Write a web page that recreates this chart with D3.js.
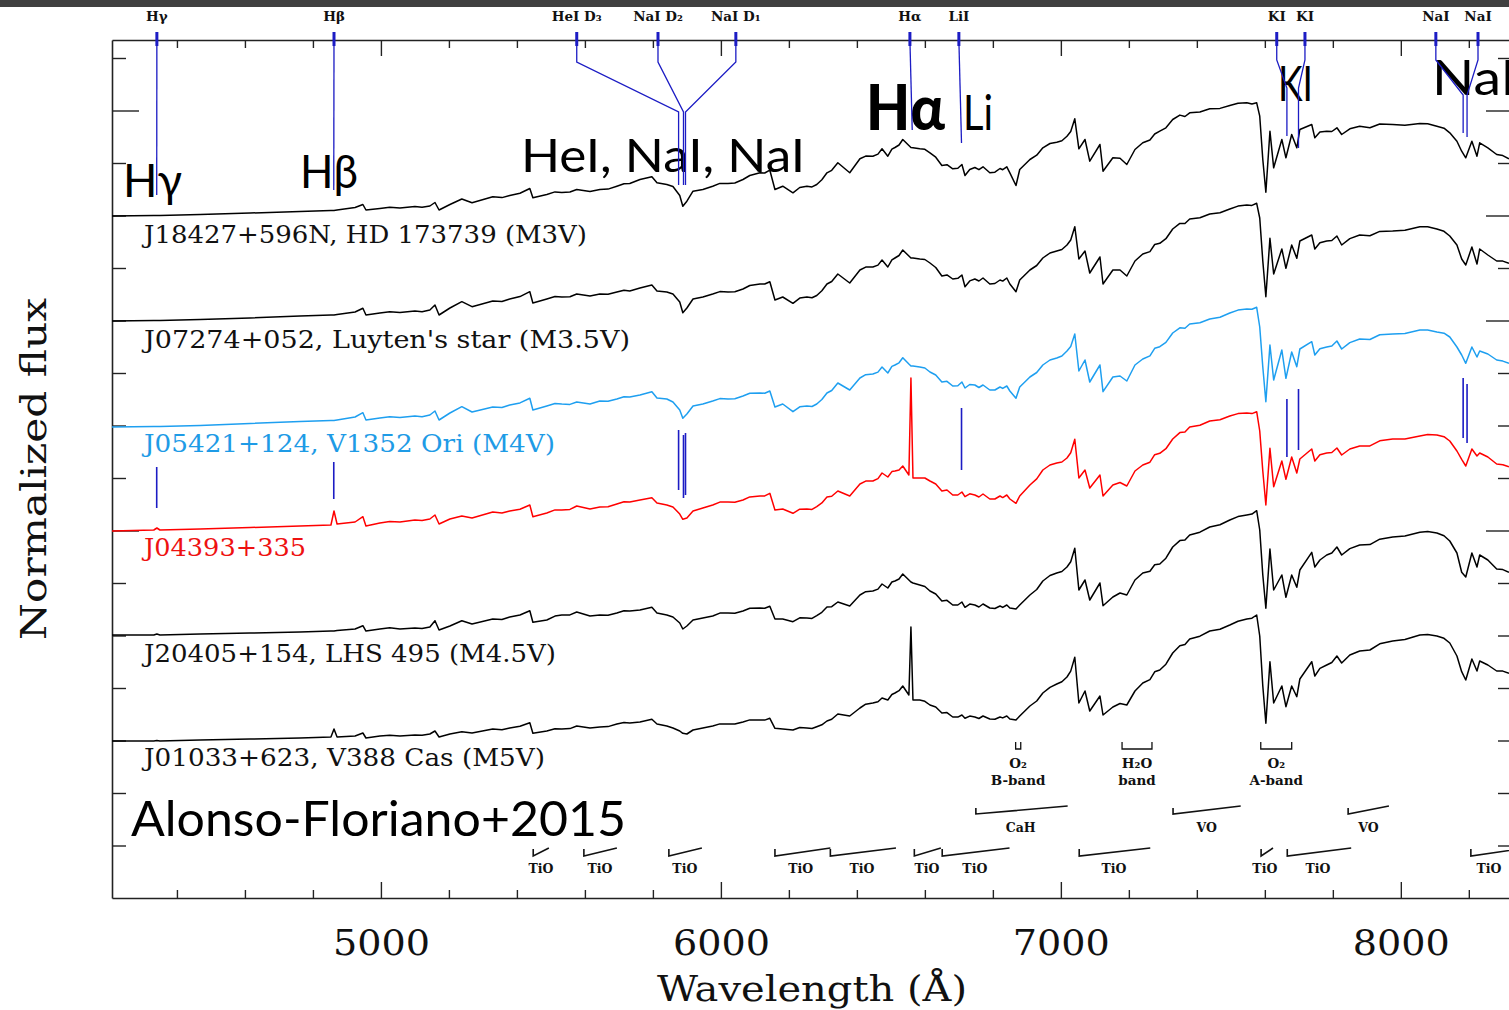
<!DOCTYPE html>
<html><head><meta charset="utf-8">
<script src="https://cdn.jsdelivr.net/npm/d3@7"></script>
<style>body{margin:0;background:#fff}svg{display:block}</style>
</head><body>
<svg id="c" width="1509" height="1010"></svg>
<script>
// ---------- DATA ----------
// coarse sampling of the spectra (Angstrom)
const wavelength = [4209,4332,4341,4350,4468,4615,4762,4853,4862,4871,
4924,4947,4956,4997,5056,5100,5144,5159,5171,5203,
5238,5268,5329,5379,5438,5447,5488,5532,5576,5615,
5644,5694,5732,5762,5797,5812,5841,5859,5879,5888,
5900,5918,5947,5976,6021,6065,6115,6144,6159,6182,
6212,6253,6282,6312,6344,6379,6409,6447,6474,6491,
6512,6535,6553,6559,6565,6585,6615,6650,6682,6709,
6718,6747,6771,6791,6821,6841,6850,6868,6879,6909,
6947,6988,7018,7041,7053,7071,7085,7115,7124,7153,
7194,7218,7241,7291,7329,7379,7438,7497,7547,7576,
7585,7594,7603,7615,7626,7650,7662,7679,7694,7703,
7738,7747,7782,7812,7826,7879,7976,8056,8106,8144,
8165,8179,8191,8209,8224,8232,8256,8282,8318];
// extra samples that carry the small-scale wiggles
const wavelengthFine = [5026,5121,5356,5409,5512,5556,5668,5715,5997,6041,6085,6129,6232,6268,6297,6326,
6426,6462,6503,6524,6600,6632,6665,6697,6732,6759,6806,6829,6929,6968,7003,7029,7174,7262,7276,
7309,7350,7365,7409,7468,7521,7562,7762,7797,7850,7909,7938,8012,8079,8127,8300];

const fluxJ18427 = [0.500,0.505,0.505,0.505,0.515,0.530,0.545,0.555,0.555,0.560,
0.585,0.615,0.560,0.575,0.580,0.595,0.600,0.635,0.560,0.615,
0.670,0.632,0.692,0.705,0.775,0.682,0.715,0.735,0.765,0.745,
0.765,0.798,0.825,0.865,0.892,0.832,0.815,0.795,0.705,0.598,
0.648,0.748,0.765,0.798,0.825,0.865,0.932,0.958,0.765,0.798,
0.732,0.798,0.815,0.932,1.032,0.932,1.072,1.098,1.172,1.098,
1.185,1.265,1.205,1.185,1.182,1.172,1.132,1.005,0.972,1.015,
0.905,0.985,0.992,0.932,0.975,0.992,0.932,0.805,0.965,1.065,
1.182,1.238,1.298,1.472,1.172,1.265,1.048,1.215,0.948,1.082,
1.015,1.165,1.232,1.348,1.465,1.532,1.572,1.605,1.632,1.632,
1.498,1.065,0.738,1.348,0.982,1.265,1.082,1.315,1.182,1.365,
1.415,1.282,1.348,1.382,1.315,1.398,1.415,1.425,1.398,1.332,
1.248,1.148,1.082,1.248,1.098,1.232,1.182,1.115,1.072];
const fluxJ18427Fine = [0.587,0.587,0.684,0.728,0.741,0.740,0.769,0.823,0.826,0.830,0.905,0.930,0.785,0.791,0.863,0.957,
1.099,1.119,1.168,1.210,1.167,1.088,1.013,0.978,0.965,0.963,0.938,0.963,1.108,1.225,1.253,1.345,1.078,1.260,1.320,
1.382,1.509,1.495,1.540,1.576,1.627,1.620,1.340,1.345,1.372,1.383,1.420,1.407,1.422,1.378,1.104];

const fluxJ07274 = [0.500,0.505,0.505,0.505,0.515,0.530,0.550,0.560,0.560,0.565,
0.590,0.627,0.560,0.580,0.585,0.600,0.610,0.660,0.560,0.630,
0.693,0.643,0.700,0.720,0.793,0.680,0.720,0.740,0.770,0.750,
0.770,0.790,0.800,0.830,0.860,0.800,0.790,0.770,0.690,0.583,
0.630,0.720,0.740,0.770,0.790,0.820,0.870,0.893,0.710,0.740,
0.677,0.740,0.755,0.870,0.970,0.880,1.010,1.040,1.110,1.040,
1.130,1.210,1.150,1.130,1.130,1.120,1.080,0.950,0.920,0.960,
0.843,0.920,0.930,0.870,0.910,0.930,0.870,0.793,0.910,1.010,
1.130,1.200,1.260,1.443,1.120,1.200,0.980,1.140,0.870,1.010,
0.950,1.100,1.170,1.277,1.420,1.520,1.570,1.620,1.660,1.677,
1.530,1.100,0.743,1.327,0.970,1.220,1.027,1.260,1.127,1.300,
1.360,1.220,1.300,1.350,1.260,1.360,1.400,1.443,1.420,1.350,
1.260,1.120,1.060,1.240,1.070,1.220,1.160,1.100,1.077];
const fluxJ07274Fine = [0.593,0.593,0.695,0.744,0.745,0.742,0.768,0.807,0.794,0.792,0.855,0.870,0.729,0.732,0.803,0.895,
1.039,1.059,1.111,1.155,1.115,1.035,0.961,0.927,0.901,0.900,0.875,0.899,1.055,1.180,1.215,1.310,1.010,1.194,1.265,
1.323,1.476,1.475,1.533,1.583,1.649,1.656,1.283,1.305,1.324,1.352,1.396,1.407,1.442,1.397,1.099];

const fluxJ05421 = [0.500,0.505,0.505,0.505,0.515,0.535,0.555,0.565,0.565,0.570,
0.600,0.643,0.570,0.590,0.595,0.610,0.620,0.660,0.570,0.640,
0.703,0.650,0.700,0.720,0.787,0.670,0.710,0.730,0.750,0.730,
0.760,0.780,0.800,0.820,0.853,0.790,0.780,0.750,0.670,0.587,
0.630,0.710,0.730,0.760,0.780,0.810,0.840,0.860,0.700,0.730,
0.653,0.710,0.730,0.840,0.940,0.870,0.990,1.030,1.100,1.040,
1.120,1.193,1.130,1.110,1.110,1.100,1.050,0.950,0.910,0.950,
0.890,0.920,0.920,0.870,0.900,0.910,0.860,0.787,0.900,1.000,
1.120,1.190,1.260,1.430,1.060,1.170,0.950,1.120,0.853,1.000,
0.960,1.120,1.180,1.303,1.440,1.530,1.580,1.640,1.680,1.697,
1.500,1.100,0.753,1.320,0.970,1.270,0.987,1.250,1.103,1.280,
1.353,1.220,1.300,1.360,1.280,1.380,1.430,1.470,1.450,1.400,
1.300,1.220,1.137,1.300,1.200,1.260,1.230,1.170,1.137];
const fluxJ05421Fine = [0.602,0.603,0.695,0.741,0.735,0.726,0.757,0.803,0.784,0.782,0.837,0.838,0.702,0.705,0.775,0.865,
1.023,1.049,1.106,1.142,1.090,1.020,0.957,0.913,0.925,0.895,0.870,0.886,1.045,1.170,1.210,1.305,1.010,1.211,1.287,
1.346,1.492,1.488,1.543,1.598,1.669,1.677,1.283,1.310,1.344,1.375,1.422,1.436,1.471,1.438,1.159];

const fluxJ04393 = [0.500,0.510,0.530,0.510,0.520,0.535,0.550,0.560,0.700,0.570,
0.590,0.643,0.550,0.580,0.590,0.610,0.620,0.660,0.570,0.620,
0.650,0.630,0.690,0.700,0.760,0.643,0.680,0.710,0.750,0.720,
0.740,0.770,0.790,0.810,0.833,0.780,0.760,0.740,0.670,0.617,
0.630,0.700,0.730,0.760,0.790,0.810,0.850,0.877,0.710,0.720,
0.677,0.720,0.743,0.840,0.900,0.850,0.970,1.000,1.080,1.040,
1.100,1.150,1.060,2.030,1.030,1.030,1.000,0.900,0.860,0.890,
0.843,0.860,0.870,0.820,0.850,0.860,0.820,0.777,0.850,0.960,
1.110,1.180,1.230,1.417,1.030,1.110,0.930,1.060,0.850,0.960,
0.950,1.100,1.160,1.277,1.420,1.540,1.600,1.650,1.680,1.693,
1.500,1.100,0.760,1.327,0.943,1.200,1.017,1.240,1.080,1.220,
1.320,1.200,1.280,1.330,1.260,1.350,1.420,1.450,1.460,1.400,
1.300,1.217,1.150,1.320,1.250,1.280,1.240,1.170,1.143];
const fluxJ04393Fine = [0.595,0.605,0.680,0.718,0.711,0.716,0.742,0.793,0.789,0.787,0.841,0.851,0.718,0.716,0.781,0.847,
0.999,1.024,1.094,1.110,1.030,0.970,0.910,0.860,0.872,0.840,0.820,0.834,1.021,1.160,1.190,1.283,0.985,1.188,1.263,
1.323,1.484,1.490,1.558,1.613,1.674,1.674,1.263,1.285,1.320,1.351,1.402,1.421,1.465,1.443,1.162];

const fluxJ20405 = [0.500,0.500,0.510,0.500,0.510,0.520,0.530,0.540,0.540,0.545,
0.560,0.593,0.540,0.560,0.560,0.570,0.580,0.643,0.550,0.590,
0.643,0.610,0.660,0.680,0.743,0.627,0.650,0.700,0.730,0.690,
0.700,0.720,0.740,0.750,0.777,0.720,0.700,0.680,0.620,0.560,
0.590,0.650,0.670,0.690,0.720,0.740,0.770,0.787,0.660,0.660,
0.633,0.670,0.693,0.780,0.830,0.790,0.900,0.940,1.010,0.970,
1.040,1.110,1.050,1.030,1.020,1.000,0.940,0.840,0.800,0.830,
0.777,0.800,0.810,0.770,0.790,0.800,0.770,0.760,0.800,0.900,
1.040,1.120,1.180,1.367,0.950,1.050,0.850,1.020,0.793,0.880,
0.900,1.050,1.120,1.210,1.380,1.500,1.580,1.650,1.700,1.743,
1.550,1.100,0.767,1.360,0.950,1.100,0.877,1.100,0.977,1.150,
1.327,1.180,1.300,1.380,1.300,1.400,1.480,1.527,1.520,1.440,
1.320,1.127,1.080,1.320,1.180,1.300,1.250,1.160,1.127];
const fluxJ20405Fine = [0.572,0.565,0.655,0.700,0.689,0.701,0.697,0.743,0.719,0.717,0.767,0.767,0.672,0.666,0.727,0.783,
0.933,0.959,1.030,1.060,0.985,0.910,0.847,0.800,0.809,0.780,0.765,0.776,0.955,1.095,1.135,1.233,0.920,1.137,1.203,
1.268,1.444,1.449,1.528,1.603,1.684,1.709,1.250,1.320,1.364,1.404,1.458,1.489,1.534,1.492,1.154];

const fluxJ01033 = [0.500,0.500,0.505,0.500,0.510,0.520,0.530,0.540,0.620,0.540,
0.550,0.580,0.530,0.550,0.550,0.560,0.570,0.600,0.540,0.570,
0.593,0.580,0.620,0.630,0.683,0.577,0.600,0.620,0.650,0.630,
0.640,0.670,0.680,0.690,0.717,0.670,0.650,0.630,0.600,0.577,
0.570,0.610,0.630,0.650,0.670,0.690,0.710,0.727,0.627,0.620,
0.610,0.630,0.643,0.700,0.770,0.750,0.830,0.880,0.930,0.910,
0.980,1.050,0.960,1.640,0.910,0.910,0.860,0.780,0.740,0.760,
0.727,0.740,0.750,0.720,0.740,0.750,0.720,0.710,0.750,0.850,
0.980,1.070,1.140,1.337,0.880,1.000,0.800,0.950,0.760,0.840,
0.860,1.000,1.080,1.210,1.380,1.520,1.600,1.660,1.720,1.760,
1.550,1.050,0.677,1.293,0.880,1.050,0.843,1.050,0.943,1.120,
1.293,1.150,1.260,1.350,1.280,1.400,1.500,1.560,1.550,1.480,
1.350,1.193,1.110,1.320,1.200,1.300,1.260,1.200,1.177];
const fluxJ01033Fine = [0.558,0.557,0.613,0.647,0.623,0.624,0.644,0.685,0.671,0.669,0.711,0.709,0.635,0.625,0.662,0.717,
0.868,0.893,0.965,1.003,0.897,0.840,0.784,0.739,0.749,0.725,0.718,0.731,0.900,1.037,1.093,1.199,0.875,1.114,1.192,
1.268,1.453,1.464,1.548,1.618,1.698,1.728,1.226,1.285,1.360,1.410,1.472,1.515,1.565,1.527,1.199];

const starNames = ["J18427+596N, HD 173739 (M3V)","J07274+052, Luyten's star (M3.5V)",
  "J05421+124, V1352 Ori (M4V)","J04393+335","J20405+154, LHS 495 (M4.5V)","J01033+623, V388 Cas (M5V)"];
const spectraCoarse = [fluxJ18427, fluxJ07274, fluxJ05421, fluxJ04393, fluxJ20405, fluxJ01033];
const spectraFine = [fluxJ18427Fine, fluxJ07274Fine, fluxJ05421Fine, fluxJ04393Fine, fluxJ20405Fine, fluxJ01033Fine];
const fluxOffsets = [6.32, 5.27, 4.21, 3.17, 2.13, 1.07];

const lineNames = ["Hγ","Hβ","HeI D₃","NaI D₂","NaI D₁","Hα","LiI","KI","KI","NaI","NaI"];
const lineLambda = [4340.5,4861.3,5875.6,5890.0,5895.9,6562.8,6707.8,7664.9,7699.0,8183.3,8194.8];
const lineLabelLambda = [4341,4862,5576,5815,6044,6556,6700,7635,7718,8103,8227];

const bandMolecule = ["TiO","TiO","TiO","TiO","TiO","TiO","TiO","TiO","TiO","TiO","TiO","CaH","VO","VO"];
const bandStart = [5448,5597,5847,6159,6322,6569,6651,7054,7589,7666,8206,6750,7330,7845];
const bandEnd   = [5494,5694,5944,6322,6515,6647,6849,7263,7624,7854,8370,7020,7529,7965];
const bandLabelLambda = [5471,5644,5894,6235,6415,6606,6747,7156,7600,7756,8259,6882,7429,7905];

const telluricTop = ["O₂","H₂O","O₂"];
const telluricBottom = ["B-band","band","A-band"];
const telluricStart = [6867,7180,7588];
const telluricEnd = [6882,7268,7679];

const majorTicks = [5000,6000,7000,8000];

// ---------- LAYOUT / STYLE ----------
const W = 1509, H = 1010;
const svg = d3.select("#c");
const x = d3.scaleLinear().domain([4209, 8327]).range([112, 1512]);
const y = d3.scaleLinear().domain([0, 8.58]).range([898, 40]);
const spectrumColors = ["#000","#000","#1e9ff0","#ff0000","#000","#000"];
const labelColors = ["#111","#111","#1e9be6","#ee1111","#111","#111"];
const labelBaselines = [243, 348, 452, 556, 662, 766];
const labelWidths = [443, 486, 411, 162, 412, 401];
const markBlue = "#1c1cc4";

svg.append("rect").attr("x",0).attr("y",0).attr("width",W).attr("height",7).attr("fill","#404040");

// axes
const minorTicks = d3.range(4400, 8400, 200).filter(v => !majorTicks.includes(v));
const axisStyle = g => { g.selectAll("path.domain").attr("stroke","#222").attr("stroke-width",1.6);
  g.selectAll(".tick line").attr("stroke","#222").attr("stroke-width",1.4); };

const gb = svg.append("g").attr("transform","translate(0,898)")
  .call(d3.axisBottom(x).tickValues(majorTicks).tickSizeInner(-16).tickSizeOuter(0).tickFormat(d3.format("d")));
gb.call(axisStyle);
gb.selectAll("text").attr("y",57).attr("dy",0).attr("font-family","DejaVu Serif").attr("font-size",36)
  .attr("fill","#111").attr("textLength",97).attr("lengthAdjust","spacingAndGlyphs");
svg.append("g").attr("transform","translate(0,898)")
  .call(d3.axisBottom(x).tickValues(minorTicks).tickSizeInner(-8).tickSizeOuter(0).tickFormat(""))
  .call(g => g.select(".domain").remove()).call(axisStyle);

svg.append("g").attr("transform","translate(0,40)")
  .call(d3.axisTop(x).tickValues(majorTicks).tickSizeInner(-16).tickSizeOuter(0).tickFormat("")).call(axisStyle);
svg.append("g").attr("transform","translate(0,40)")
  .call(d3.axisTop(x).tickValues(minorTicks).tickSizeInner(-8).tickSizeOuter(0).tickFormat(""))
  .call(g => g.select(".domain").remove()).call(axisStyle);

const yTicks = d3.range(1, 17).map(k => +(0.525 * k).toFixed(4));
const leftLong = [7, 15], rightLong = [7, 11, 13, 15];
const gl = svg.append("g").attr("transform","translate(112,0)")
  .call(d3.axisLeft(y).tickValues(yTicks).tickSizeInner(-14).tickSizeOuter(0).tickFormat("")).call(axisStyle);
gl.selectAll(".tick line").attr("x2", (d,i) => leftLong.includes(i+1) ? 27 : 14);
const gr = svg.append("g").attr("transform","translate(1512,0)")
  .call(d3.axisRight(y).tickValues(yTicks).tickSizeInner(-14).tickSizeOuter(0).tickFormat("")).call(axisStyle);
gr.selectAll(".tick line").attr("x2", (d,i) => rightLong.includes(i+1) ? -26 : -14);

// axis titles
svg.append("text").attr("x",812).attr("y",1001).attr("text-anchor","middle")
  .attr("font-family","DejaVu Serif").attr("font-size",36).attr("fill","#111")
  .attr("textLength",310).attr("lengthAdjust","spacingAndGlyphs").text("Wavelength (Å)");
svg.append("text").attr("transform","translate(46,469) rotate(-90)").attr("text-anchor","middle")
  .attr("font-family","DejaVu Serif").attr("font-size",36).attr("fill","#111")
  .attr("textLength",342).attr("lengthAdjust","spacingAndGlyphs").text("Normalized flux");

// spectra
spectraCoarse.forEach((fl, s) => {
  const pts = wavelength.map((w, i) => [w, fl[i]])
    .concat(wavelengthFine.map((w, i) => [w, spectraFine[s][i]]))
    .sort((a, b) => a[0] - b[0])
    .map(p => [p[0], p[1] + fluxOffsets[s]]);
  svg.append("path").datum(pts)
    .attr("d", d3.line().x(d => x(d[0])).y(d => y(d[1])))
    .attr("fill","none").attr("stroke", spectrumColors[s]).attr("stroke-width",1.5)
    .attr("stroke-linejoin","round");
  svg.append("text").attr("x",144).attr("y",labelBaselines[s])
    .attr("font-family","DejaVu Serif").attr("font-size",24).attr("fill",labelColors[s])
    .attr("textLength",labelWidths[s]).attr("lengthAdjust","spacingAndGlyphs").text(starNames[s]);
});

// big labels
const big = [
  {t:"Hγ", x:123, y:197, w:59, fs:46, fw:400},
  {t:"Hβ", x:300, y:188, w:58, fs:46, fw:400},
  {t:"HeI, NaI, NaI", x:521, y:172, w:284, fs:46, fw:400},
  {t:"Hα", x:866, y:130, w:79, fs:62, fw:900},
  {t:"Li", x:963, y:130, w:30, fs:48, fw:400},
  {t:"KI", x:1278, y:101, w:35, fs:48, fw:400},
  {t:"NaI", x:1432, y:95, w:84, fs:48, fw:400},
  {t:"Alonso-Floriano+2015", x:131, y:836, w:495, fs:48, fw:400}
];
big.forEach(b => svg.append("text").attr("x",b.x).attr("y",b.y)
  .attr("font-family","Lato").attr("font-weight",b.fw).attr("font-size",b.fs).attr("fill","#000")
  .attr("textLength",b.w).attr("lengthAdjust","spacingAndGlyphs").text(b.t));

// line identification markers
const bend1 = [null,null,62,62,62,null,null,60,60,60,60];
const bend2 = [null,null,112,112,112,null,null,88,88,95,95];
const upperEnd = [195,190,185,185,185,130,143,136,148,133,137];
const lowerSeg = [[467,508],[462,499],[430,490],[435,498],[433,495],null,[408,470],[399,457],[389,450],[378,438],[384,443]];
lineNames.forEach((n, i) => {
  const xl = x(lineLabelLambda[i]), xt = x(lineLambda[i]);
  svg.append("line").attr("x1",xl).attr("x2",xl).attr("y1",32).attr("y2",46)
    .attr("stroke",markBlue).attr("stroke-width",3);
  let d;
  if (bend1[i] === null) d = `M${xl},40L${xt},${upperEnd[i]}`;
  else d = `M${xl},40L${xl},${bend1[i]}L${xt},${bend2[i]}L${xt},${upperEnd[i]}`;
  svg.append("path").attr("d",d).attr("fill","none").attr("stroke",markBlue).attr("stroke-width",1.3);
  if (lowerSeg[i]) svg.append("line").attr("x1",xt).attr("x2",xt)
    .attr("y1",lowerSeg[i][0]).attr("y2",lowerSeg[i][1]).attr("stroke",markBlue).attr("stroke-width",1.6);
  svg.append("text").attr("x",xl).attr("y",21).attr("text-anchor","middle")
    .attr("font-family","DejaVu Serif").attr("font-weight","bold").attr("font-size",13.5).attr("fill","#111").text(n);
});

// molecular bands
bandMolecule.forEach((m, i) => {
  const tio = m === "TiO";
  const yb = tio ? 856 : 814, yt = tio ? 848 : 806, ytick = tio ? 849 : 808;
  const x0 = x(bandStart[i]), x1 = x(bandEnd[i]);
  svg.append("path").attr("d",`M${x0},${ytick}L${x0},${yb}L${x1},${yt}`)
    .attr("fill","none").attr("stroke","#111").attr("stroke-width",1.6);
  svg.append("text").attr("x",x(bandLabelLambda[i])).attr("y", tio ? 873 : 832).attr("text-anchor","middle")
    .attr("font-family","DejaVu Serif").attr("font-weight","bold").attr("font-size",12.5).attr("fill","#111").text(m);
});
telluricTop.forEach((t, i) => {
  const x0 = x(telluricStart[i]), x1 = x(telluricEnd[i]), xc = (x0 + x1) / 2;
  svg.append("path").attr("d",`M${x0},742L${x0},749L${x1},749L${x1},742`)
    .attr("fill","none").attr("stroke","#111").attr("stroke-width",1.3);
  svg.append("text").attr("x",xc).attr("y",768).attr("text-anchor","middle")
    .attr("font-family","DejaVu Serif").attr("font-weight","bold").attr("font-size",13.5).attr("fill","#111").text(t);
  svg.append("text").attr("x",xc).attr("y",785).attr("text-anchor","middle")
    .attr("font-family","DejaVu Serif").attr("font-weight","bold").attr("font-size",13.5).attr("fill","#111").text(telluricBottom[i]);
});
</script>
</body></html>
